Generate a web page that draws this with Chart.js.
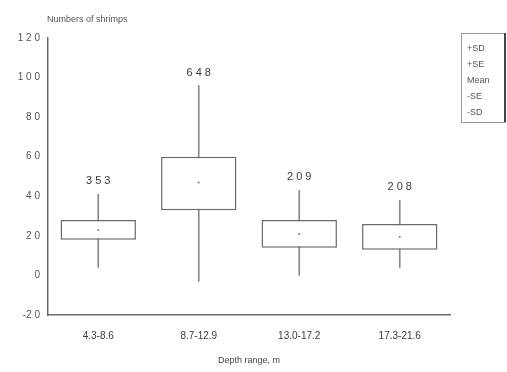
<!DOCTYPE html>
<html>
<head>
<meta charset="utf-8">
<script src="https://cdn.jsdelivr.net/npm/chart.js@4"></script>
<style>
  html, body { margin: 0; padding: 0; background: #fff; }
  #wrap { width: 507px; height: 372px; }
</style>
</head>
<body>
<div id="wrap"><canvas id="c" width="507" height="372"></canvas></div>
<script>
/* Box chart: box = -SE..+SE, whisker = -SD..+SD, dot = mean, n on top. */
var categories = ['4.3-8.6', '8.7-12.9', '13.0-17.2', '17.3-21.6'];
var counts = [353, 648, 209, 208];
var sdHigh = [41, 96, 43, 38];
var seHigh = [28, 60, 28, 26];
var means  = [23, 47, 21, 19.5];
var seLow  = [18, 33, 14, 13];
var sdLow  = [4, -3, 0, 4];
var yTicks = [120, 100, 80, 60, 40, 20, 0, -20];
var legendItems = ['+SD', '+SE', 'Mean', '-SE', '-SD'];

var INK = '#6a6a6a';
var TXT = '#3a3a3a';
var FONT = '"Liberation Sans", Arial, sans-serif';

function pairs(lo, hi) { return lo.map(function (v, i) { return [v, hi[i]]; }); }

/* n labels above the whiskers, axis title at top, key box at right */
var extras = {
  id: 'extras',
  afterDatasetsDraw: function (chart) {
    var ctx = chart.ctx, x = chart.scales.x, y = chart.scales.y;
    ctx.save();
    ctx.fillStyle = TXT;
    ctx.font = '11px ' + FONT;
    ctx.textAlign = 'center';
    ctx.textBaseline = 'middle';
    counts.forEach(function (n, i) {
      ctx.fillText(String(n).split('').join(' '), x.getPixelForValue(i), y.getPixelForValue(sdHigh[i]) - 13);
    });

    ctx.font = '9px ' + FONT;
    ctx.textAlign = 'left';
    ctx.fillStyle = '#555';
    ctx.fillText('Numbers of shrimps', chart.chartArea.left - 1, 20);

    // key box
    var bx = 461, by = 33, bw = 44, bh = 89;
    ctx.strokeStyle = '#999';
    ctx.lineWidth = 1;
    ctx.strokeRect(bx + 0.5, by + 0.5, bw, bh);
    ctx.strokeStyle = '#444';
    ctx.lineWidth = 2;
    ctx.beginPath(); ctx.moveTo(bx + bw, by); ctx.lineTo(bx + bw, by + bh); ctx.stroke();
    ctx.fillStyle = '#555';
    ctx.font = '9px ' + FONT;
    legendItems.forEach(function (t, i) {
      ctx.fillText(t, bx + 6, by + 16 + i * 16);
    });
    ctx.restore();
  }
};

new Chart(document.getElementById('c'), {
  type: 'bar',
  data: {
    labels: categories,
    datasets: [
      { type: 'scatter', data: means.map(function (m, i) { return { x: i, y: m }; }),
        pointRadius: 1, pointBackgroundColor: '#777', pointBorderWidth: 0, order: 0 },
      { data: pairs(seLow, seHigh), backgroundColor: '#fff', borderColor: INK, borderWidth: 1.5,
        borderSkipped: false, barPercentage: 0.75, categoryPercentage: 1, grouped: false, order: 1 },
      { data: pairs(sdLow, sdHigh), backgroundColor: '#8a8a8a', borderWidth: 0,
        barThickness: 1, grouped: false, order: 2 }
    ]
  },
  options: {
    responsive: false,
    animation: false,
    layout: { padding: { top: 38, right: 57, left: 0, bottom: 0 } },
    plugins: { legend: { display: false }, tooltip: { enabled: false } },
    scales: {
      x: {
        type: 'category',
        grid: { display: false, drawTicks: false },
        border: { color: INK, width: 1.5 },
        ticks: { color: TXT, font: { family: FONT, size: 10 }, padding: 15 },
        title: { display: true, text: 'Depth range, m', color: '#444', font: { family: FONT, size: 9 }, padding: { top: 4, bottom: 6 } },
        afterFit: function (s) { s.height = 57; }
      },
      y: {
        min: -20, max: 120,
        grid: { display: false, drawTicks: false },
        border: { color: INK, width: 1.5 },
        afterBuildTicks: function (s) { s.ticks = yTicks.map(function (v) { return { value: v }; }); },
        ticks: { color: '#555', font: { family: FONT, size: 10 }, padding: 8,
          callback: function (v) { return String(v).split('').join(' ').replace('- ', '-'); } },
        afterFit: function (s) { s.width = 48; }
      }
    }
  },
  plugins: [extras]
});
</script>
</body>
</html>
